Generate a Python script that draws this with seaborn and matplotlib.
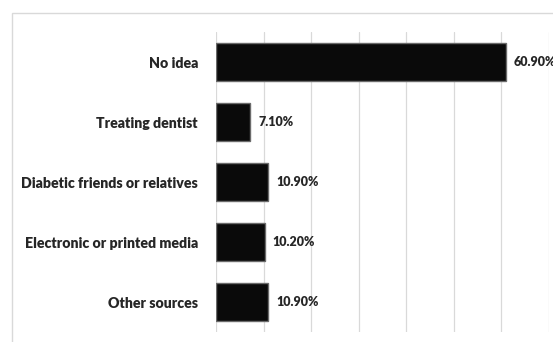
import pandas as pd
import matplotlib.pyplot as plt
import seaborn as sns
from matplotlib.patches import Rectangle

# Dados do grafico
fontes = ['No idea', 'Treating dentist', 'Diabetic friends or relatives',
          'Electronic or printed media', 'Other sources']
percentuais = [60.9, 7.1, 10.9, 10.2, 10.9]
rotulos = ['60.90%', '7.10%', '10.90%', '10.20%', '10.90%']

df = pd.DataFrame({'fonte': fontes, 'pct': percentuais})

sns.set_style('white')
plt.rcParams['font.family'] = ['Lato', 'DejaVu Sans']

fig = plt.figure(figsize=(5.53, 3.42), dpi=100)
ax = fig.add_axes([216 / 553, 10 / 342, 333 / 553, 300 / 342])

sns.barplot(data=df, y='fonte', x='pct', orient='h', color='#0a0a0a',
            width=0.62, edgecolor='#6b6b6b', linewidth=1.0, ax=ax, zorder=3)

ax.set_xlim(0, 70)
ax.set_xticks(range(0, 71, 10))
ax.xaxis.grid(True, color='#d9d9d9', linewidth=0.9, zorder=0)
ax.set_axisbelow(True)
ax.tick_params(axis='x', length=0, labelbottom=False)
ax.tick_params(axis='y', length=0, pad=13)
for lab in ax.get_yticklabels():
    lab.set_fontweight('heavy')
    lab.set_fontsize(10.2)
ax.set_xlabel('')
ax.set_ylabel('')
for s in ax.spines.values():
    s.set_visible(False)

# Rotulos dos valores (o primeiro fica cortado na borda, como no original)
for i, (v, txt) in enumerate(zip(percentuais, rotulos)):
    ax.annotate(txt, xy=(v, i), xytext=(6, 0), textcoords='offset points',
                va='center', ha='left', fontsize=9, fontweight='heavy',
                annotation_clip=False)

# Borda do grafico
fig.patches.append(Rectangle((12 / 553, -0.1), 1.0, (342 - 13) / 342 + 0.1,
                             transform=fig.transFigure, fill=False,
                             edgecolor='#d9d9d9', linewidth=1.0))

fig.savefig('out.png', dpi=100)
